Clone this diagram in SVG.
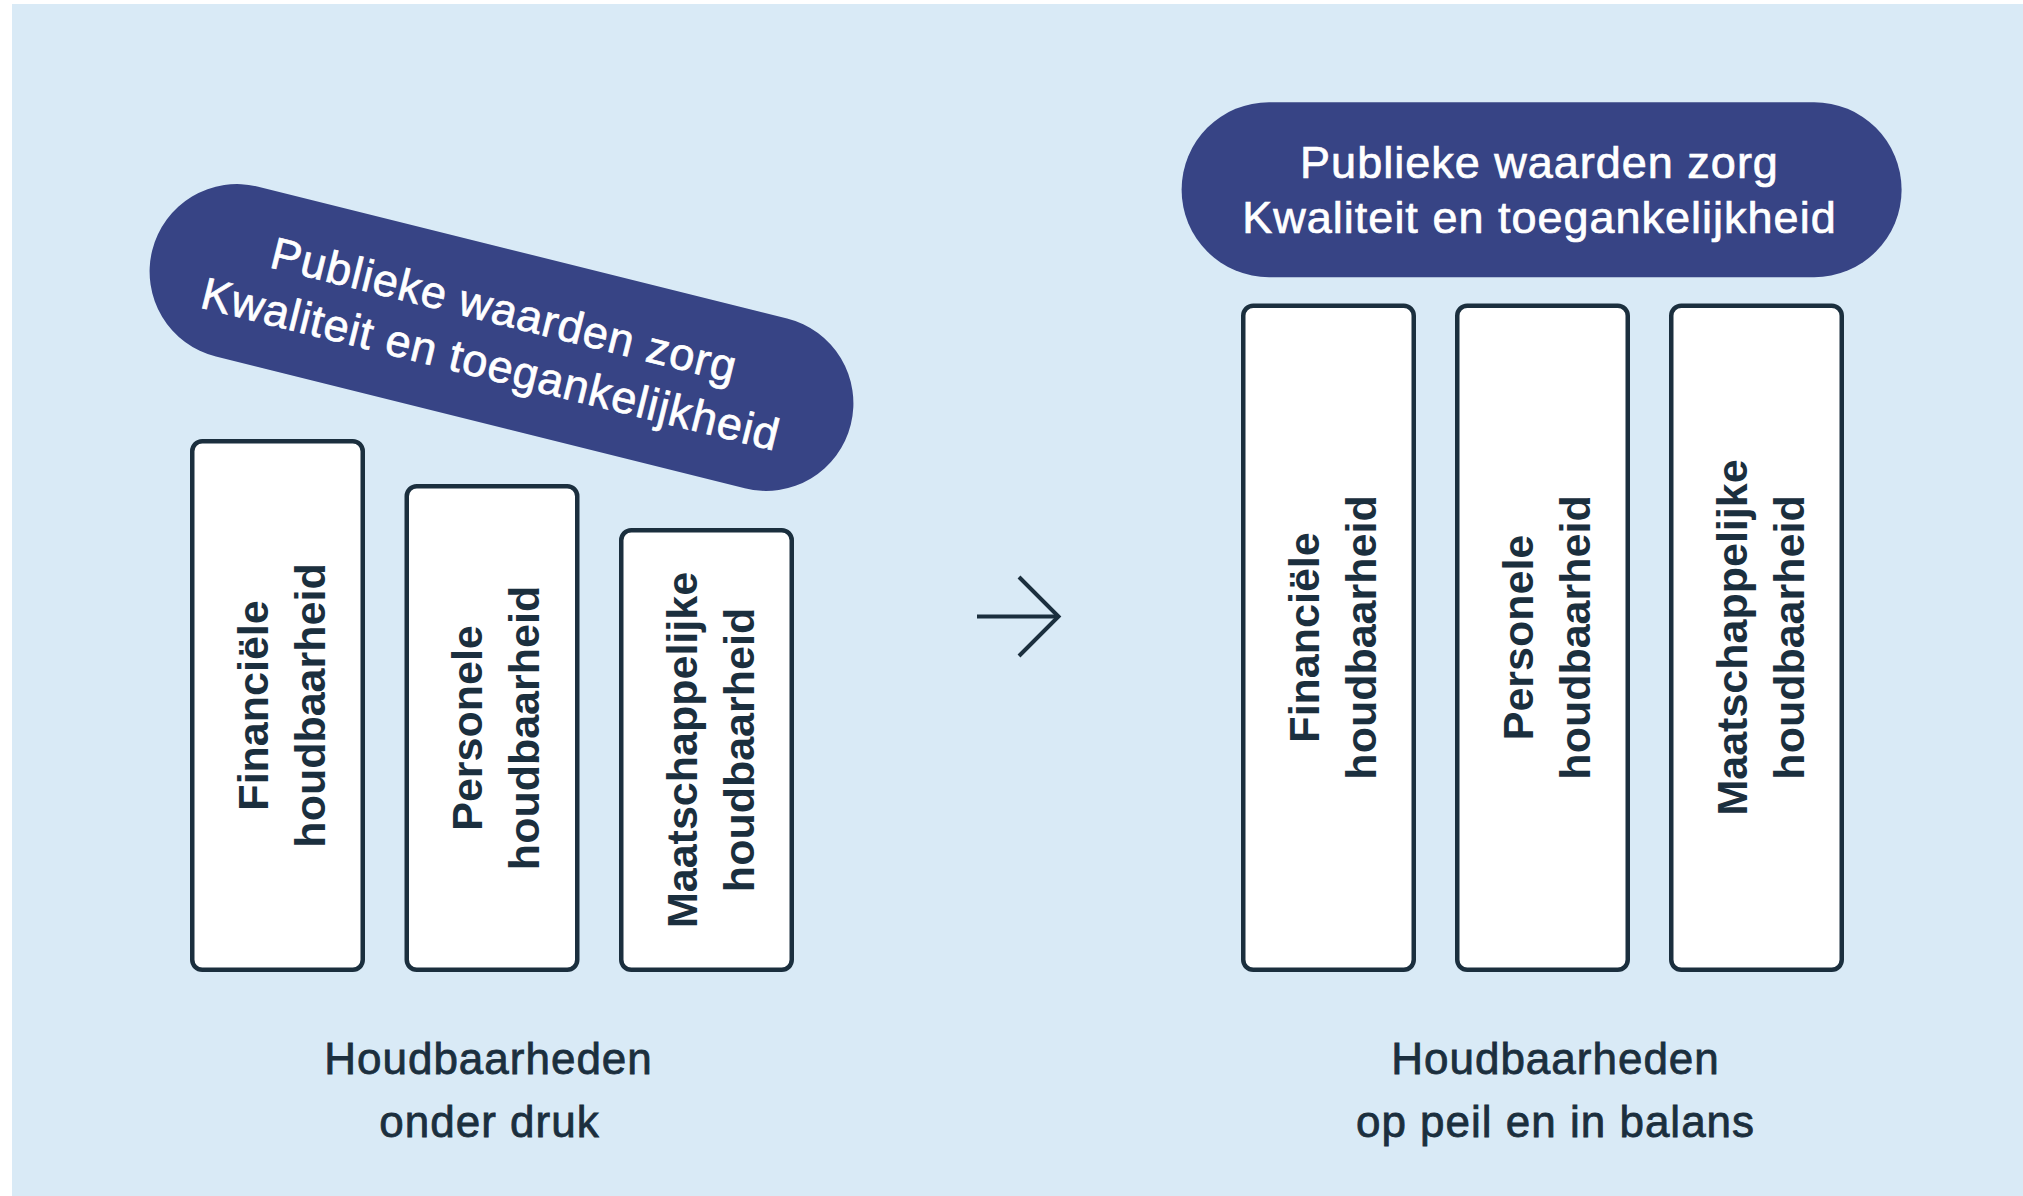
<svg xmlns="http://www.w3.org/2000/svg" width="2023" height="1196" viewBox="0 0 2023 1196">
<style>
.bg{fill:#d9eaf6}
.pill{fill:#374485}
.pilltxt{font-family:"Liberation Sans",Arial,sans-serif;font-size:45px;fill:#ffffff;stroke:#ffffff;stroke-width:0.7px;letter-spacing:1px;text-anchor:middle}
.pillar{fill:#ffffff;stroke:#1b2f3e;stroke-width:4.5}
.ptxt{font-family:"Liberation Sans",Arial,sans-serif;font-size:43px;font-weight:bold;fill:#1b2f3e;text-anchor:middle}
.lbl{font-family:"Liberation Sans",Arial,sans-serif;font-size:44px;fill:#1b2f3e;stroke:#1b2f3e;stroke-width:0.8px;letter-spacing:1px;text-anchor:middle}
.conn{fill:none;stroke:#1b2f3e;stroke-width:4;stroke-linejoin:miter;stroke-linecap:butt}
</style>
<rect x="0" y="0" width="2023" height="1196" fill="#ffffff"/>
<rect class="bg" x="12" y="4" width="2011" height="1192"/>

<!-- Left side -->
<g id="left-values" transform="translate(501.5,337.5) rotate(14)">
  <rect class="pill" x="-360" y="-87.5" width="720" height="175" rx="87.5" ry="87.5"/>
  <text class="pilltxt"><tspan x="-4" y="-12">Publieke waarden zorg</tspan><tspan x="-4" y="44">Kwaliteit en toegankelijkheid</tspan></text>
</g>

<g id="left-financieel">
  <rect class="pillar" x="192.25" y="441.25" width="170.5" height="528.5" rx="10" ry="10"/>
  <text class="ptxt" transform="translate(277.5,705.5) rotate(-90)"><tspan x="0" y="-10">Financiële</tspan><tspan x="0" y="47">houdbaarheid</tspan></text>
</g>
<g id="left-personeel">
  <rect class="pillar" x="406.75" y="486.25" width="170.5" height="483.5" rx="10" ry="10"/>
  <text class="ptxt" transform="translate(492,728) rotate(-90)"><tspan x="0" y="-10">Personele</tspan><tspan x="0" y="47">houdbaarheid</tspan></text>
</g>
<g id="left-maatschappelijk">
  <rect class="pillar" x="621.25" y="530.25" width="170.5" height="439.5" rx="10" ry="10"/>
  <text class="ptxt" transform="translate(706.5,750) rotate(-90)"><tspan x="0" y="-10">Maatschappelijke</tspan><tspan x="0" y="47">houdbaarheid</tspan></text>
</g>

<g id="left-label">
  <text class="lbl"><tspan x="488.5" y="1074">Houdbaarheden</tspan><tspan x="489.5" y="1137">onder druk</tspan></text>
</g>

<!-- Connector -->
<g id="connectors">
  <path class="conn" d="M977,616.5 H1059"/>
  <path class="conn" d="M1019,577 L1058.5,616.5 L1019,656"/>
</g>

<!-- Right side -->
<g id="right-values">
  <rect class="pill" x="1181.6" y="102.2" width="720" height="175" rx="87.5" ry="87.5"/>
  <text class="pilltxt"><tspan x="1539.5" y="178.3">Publieke waarden zorg</tspan><tspan x="1539.5" y="233.3">Kwaliteit en toegankelijkheid</tspan></text>
</g>

<g id="right-financieel">
  <rect class="pillar" x="1243.25" y="305.75" width="170.5" height="664" rx="10" ry="10"/>
  <text class="ptxt" transform="translate(1328.5,637.5) rotate(-90)"><tspan x="0" y="-10">Financiële</tspan><tspan x="0" y="47">houdbaarheid</tspan></text>
</g>
<g id="right-personeel">
  <rect class="pillar" x="1457.25" y="305.75" width="170.5" height="664" rx="10" ry="10"/>
  <text class="ptxt" transform="translate(1542.5,637.5) rotate(-90)"><tspan x="0" y="-10">Personele</tspan><tspan x="0" y="47">houdbaarheid</tspan></text>
</g>
<g id="right-maatschappelijk">
  <rect class="pillar" x="1671.25" y="305.75" width="170.5" height="664" rx="10" ry="10"/>
  <text class="ptxt" transform="translate(1756.5,637.5) rotate(-90)"><tspan x="0" y="-10">Maatschappelijke</tspan><tspan x="0" y="47">houdbaarheid</tspan></text>
</g>

<g id="right-label">
  <text class="lbl"><tspan x="1555.5" y="1074">Houdbaarheden</tspan><tspan x="1555.5" y="1137">op peil en in balans</tspan></text>
</g>
</svg>
